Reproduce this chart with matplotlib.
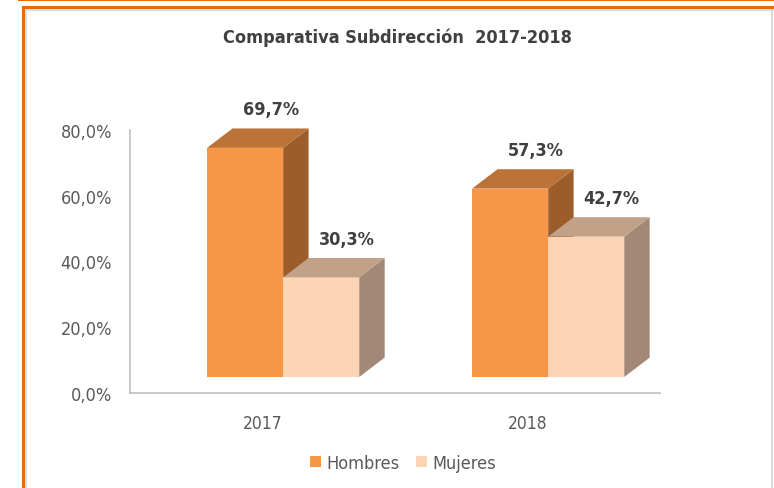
import matplotlib.pyplot as plt
from matplotlib.patches import Polygon, Rectangle
from matplotlib.lines import Line2D

plt.rcParams['font.family'] = ['DejaVu Sans']
plt.rcParams['font.stretch'] = 'condensed'

# datos
years = ['2017', '2018']
hombres = [69.7, 57.3]
mujeres = [30.3, 42.7]
series_names = ['Hombres', 'Mujeres']
yticks = [0, 20, 40, 60, 80]

# colores (frente, tapa, lateral)
col_h = ('#F79646', '#BA7236', '#9C5D2B')
col_m = ('#FBD4B4', '#C1A289', '#A38875')
gray_txt = '#595959'
dark_txt = '#404040'

W, H = 774, 489
fig = plt.figure(figsize=(W / 100, H / 100), dpi=100)

# marco naranja como en el informe
fig.add_artist(Line2D([19 / W, 1], [1 - 1 / H, 1 - 1 / H], color='#E46C0A', lw=1.5))
fig.add_artist(Line2D([23 / W, 23 / W], [0, 1 - 8 / H], color='#E46C0A', lw=2.2))
fig.add_artist(Line2D([23 / W, 1], [1 - 8 / H, 1 - 8 / H], color='#E46C0A', lw=2.2))
fig.add_artist(Line2D([26 / W, 1], [1 - 10.5 / H, 1 - 10.5 / H], color='#D9D9D9', lw=1.2))
fig.add_artist(Line2D([26 / W, 26 / W], [0, 1 - 10.5 / H], color='#D9D9D9', lw=1.2))
fig.add_artist(Line2D([772 / W, 772 / W], [0, 1 - 10.5 / H], color='#D9D9D9', lw=1.5))

ax = fig.add_axes([130 / W, (H - 394) / H, 530 / W, 263 / H])
ax.set_xlim(-0.5, 1.5)
ax.set_ylim(0, 80)

# geometria 3D (en unidades de datos)
bar_w = 0.287
x_off = -0.209
dx, dy = 0.096, 5.9
lift = 4.87


def draw_bar(left, val, cols):
    r = left + bar_w
    b = lift
    t = lift + val
    front = Polygon([(left, b), (r, b), (r, t), (left, t)], closed=True,
                    fc=cols[0], ec='none', clip_on=False, zorder=3)
    top = Polygon([(left, t), (r, t), (r + dx, t + dy), (left + dx, t + dy)], closed=True,
                  fc=cols[1], ec='none', clip_on=False, zorder=3)
    side = Polygon([(r, b), (r + dx, b + dy), (r + dx, t + dy), (r, t)], closed=True,
                   fc=cols[2], ec='none', clip_on=False, zorder=3)
    for p in (side, front, top):
        ax.add_patch(p)
    ax.annotate(f'{val:.1f}%'.replace('.', ','), xy=(left + bar_w / 2 + dx, t + dy),
                xytext=(0, 14), textcoords='offset points', ha='center', va='center',
                fontsize=13, fontweight='bold', color=dark_txt, annotation_clip=False)


for i in range(len(years)):
    draw_bar(i + x_off, hombres[i], col_h)
    draw_bar(i + x_off + bar_w, mujeres[i], col_m)

ax.set_yticks(yticks)
ax.set_yticklabels([f'{v:.1f}%'.replace('.', ',') for v in yticks])
ax.set_xticks(range(len(years)))
ax.set_xticklabels(years)
ax.tick_params(axis='y', length=0, labelsize=13, labelcolor=gray_txt, pad=13)
ax.tick_params(axis='x', length=0, labelsize=12.5, labelcolor=gray_txt, pad=15)
for s in ('top', 'right'):
    ax.spines[s].set_visible(False)
for s in ('left', 'bottom'):
    ax.spines[s].set_color('#BFBFBF')
    ax.spines[s].set_linewidth(1.2)

fig.text(397 / W, 1 - 38 / H, 'Comparativa Subdirección  2017-2018', ha='center', va='center',
         fontsize=13, fontweight='bold', color=dark_txt)

handles = [Rectangle((0, 0), 1, 1, fc=col_h[0]), Rectangle((0, 0), 1, 1, fc=col_m[0])]
fig.legend(handles, series_names, loc='center', bbox_to_anchor=(403 / W, 1 - 464 / H),
           ncol=2, frameon=False, fontsize=13, handlelength=0.6, handleheight=0.6,
           handletextpad=0.3, columnspacing=0.9, labelcolor=gray_txt)

fig.savefig('out.png', dpi=100)
